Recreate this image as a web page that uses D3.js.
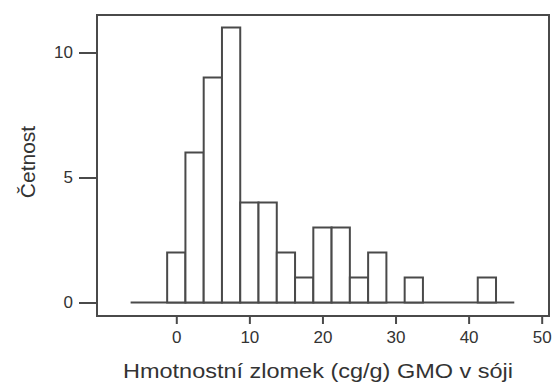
<!DOCTYPE html>
<html>
<head>
<meta charset="utf-8">
<script src="https://cdn.jsdelivr.net/npm/d3@7"></script>
<style>
  body { margin: 0; background: #fff; }
  text { font-family: "Liberation Sans", Arial, sans-serif; fill: #333; }
</style>
</head>
<body>
<svg id="chart" width="552" height="385"></svg>
<script>
// bin midpoints (cg/g), bin width 2.5
var MIDPOINTS = [-5, -2.5, 0, 2.5, 5, 7.5, 10, 12.5, 15, 17.5, 20, 22.5, 25, 27.5, 30, 32.5, 35, 37.5, 40, 42.5, 45];
var COUNTS    = [ 0,    0, 2,   6, 9,  11,  4,    4,  2,    1,  3,    3,  1,    2,  0,    1,  0,    0,  0,    1,  0];
var BIN_WIDTH = 2.5;
var X_TICKS = [0, 10, 20, 30, 40, 50];
var Y_TICKS = [0, 5, 10];
var X_TITLE = "Hmotnostní zlomek (cg/g) GMO v sóji";
var Y_TITLE = "Četnost";

document.addEventListener("DOMContentLoaded", function() {
  drawHist();
});

function drawHist() {
  var svg = d3.select("#chart");
  var left = 97, right = 549, top = 15, bottom = 316;
  var lineColor = "#4a4a4a";

  var x = d3.scaleLinear().domain([-10.85, 51]).range([left, right]);
  var y = d3.scaleLinear().domain([-0.54, 11.5]).range([bottom, top]);

  var bins = MIDPOINTS.map(function(m, i) {
    return { x0: m - BIN_WIDTH / 2, x1: m + BIN_WIDTH / 2, n: COUNTS[i] };
  });

  // frame
  svg.append("rect")
    .attr("x", left).attr("y", top)
    .attr("width", right - left).attr("height", bottom - top)
    .attr("fill", "none").attr("stroke", lineColor).attr("stroke-width", 2);

  // axes
  var yAxis = d3.axisLeft(y).tickValues(Y_TICKS).tickSize(18).tickPadding(6).tickFormat(d3.format("d"));
  var gy = svg.append("g").attr("transform", "translate(" + left + ",0)").call(yAxis);
  gy.select(".domain").remove();
  gy.selectAll("line").attr("stroke", lineColor).attr("stroke-width", 2);
  gy.selectAll("text").style("font-size", "17px").attr("fill", "#444");

  var xAxis = d3.axisBottom(x).tickValues(X_TICKS).tickSize(8).tickPadding(7).tickFormat(d3.format("d"));
  var gx = svg.append("g").attr("transform", "translate(0," + bottom + ")").call(xAxis);
  gx.select(".domain").remove();
  gx.selectAll("line").attr("stroke", lineColor).attr("stroke-width", 2);
  gx.selectAll("text").style("font-size", "17px").attr("fill", "#444");

  // baseline under all bins
  svg.append("line")
    .attr("x1", x(bins[0].x0)).attr("x2", x(bins[bins.length - 1].x1))
    .attr("y1", y(0)).attr("y2", y(0))
    .attr("stroke", lineColor).attr("stroke-width", 2);

  // bars
  svg.selectAll(".bar")
      .data(bins.filter(function(d) { return d.n > 0; }))
    .enter()
      .append("rect")
      .attr("class", "bar")
      .attr("x", function(d) { return x(d.x0); })
      .attr("y", function(d) { return y(d.n); })
      .attr("width", function(d) { return x(d.x1) - x(d.x0); })
      .attr("height", function(d) { return y(0) - y(d.n); })
      .attr("fill", "#fff")
      .attr("stroke", lineColor)
      .attr("stroke-width", 2);

  // titles
  svg.append("text")
    .attr("x", 318).attr("y", 378)
    .attr("text-anchor", "middle")
    .attr("textLength", 390)
    .attr("lengthAdjust", "spacingAndGlyphs")
    .style("font-size", "21px")
    .text(X_TITLE);

  svg.append("text")
    .attr("transform", "translate(35,162) rotate(-90)")
    .attr("text-anchor", "middle")
    .style("font-size", "21px")
    .text(Y_TITLE);
}
</script>
</body>
</html>
